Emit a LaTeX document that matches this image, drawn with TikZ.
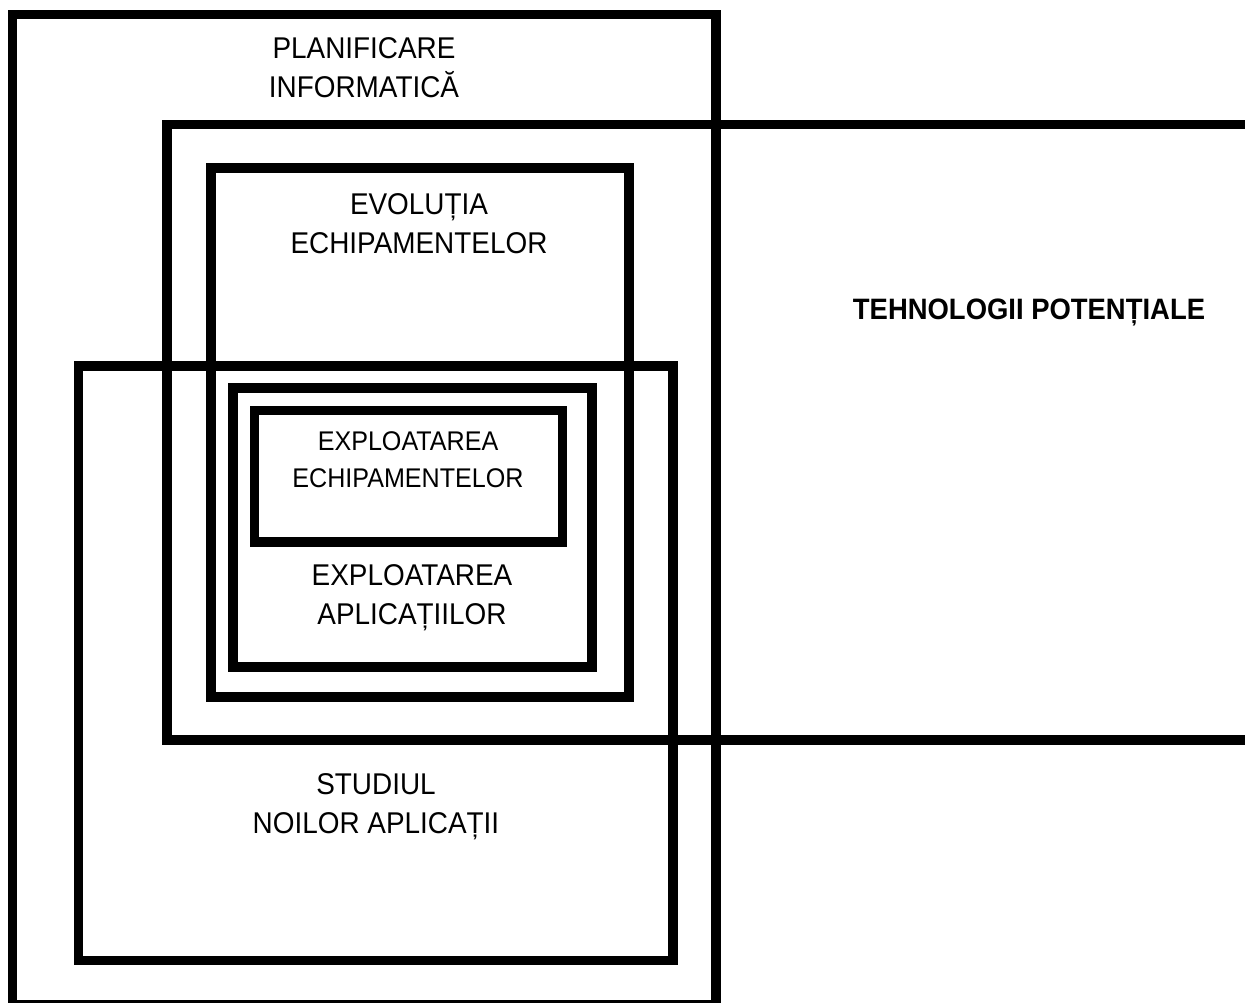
\documentclass[tikz,border=0pt]{standalone}
\usepackage{fontspec}
\setmainfont[FakeStretch=0.93]{Liberation Sans}
\begin{document}
\begin{tikzpicture}[x=1pt,y=-1pt,
  frame/.style={line width=9.3pt,line join=miter},
  lbl/.style={font=\fontsize{30}{39}\selectfont,align=center,inner sep=0pt},
  lblsmall/.style={font=\fontsize{27}{37}\selectfont,align=center,inner sep=0pt},
  lblbold/.style={font=\fontsize{29.5}{34}\selectfont\bfseries,inner sep=0pt}]
\useasboundingbox (0,0) rectangle (1245,1002);
\clip (0,0) rectangle (1245,1002);
% planificare informatica
\draw[frame] (12.5,14.5) rectangle (716,1004.5);
% tehnologii potentiale (open to the right)
\draw[frame] (1260,124.5) -- (167,124.5) -- (167,740) -- (1260,740);
% evolutia echipamentelor
\draw[frame] (211,168) rectangle (629,697);
% studiul noilor aplicatii
\draw[frame] (78.7,366) rectangle (673,960.7);
% exploatarea aplicatiilor
\draw[frame] (233,388) rectangle (592,667);
% exploatarea echipamentelor
\draw[frame] (254.7,410.7) rectangle (562.3,542);

\node[lbl] (plan) at (364,68) {PLANIFICARE\\INFORMATICĂ};
\node[lbl] (evol) at (419,224) {EVOLUȚIA\\ECHIPAMENTELOR};
\node[lblbold] (tehn) at (1029,312) {TEHNOLOGII POTENȚIALE};
\node[lblsmall] (exech) at (408,460) {EXPLOATAREA\\ECHIPAMENTELOR};
\node[lbl] (exapl) at (412,598) {EXPLOATAREA\\APLICAȚIILOR};
\node[lbl] (stud) at (376,807) {STUDIUL\\NOILOR APLICAȚII};
\end{tikzpicture}
\end{document}
